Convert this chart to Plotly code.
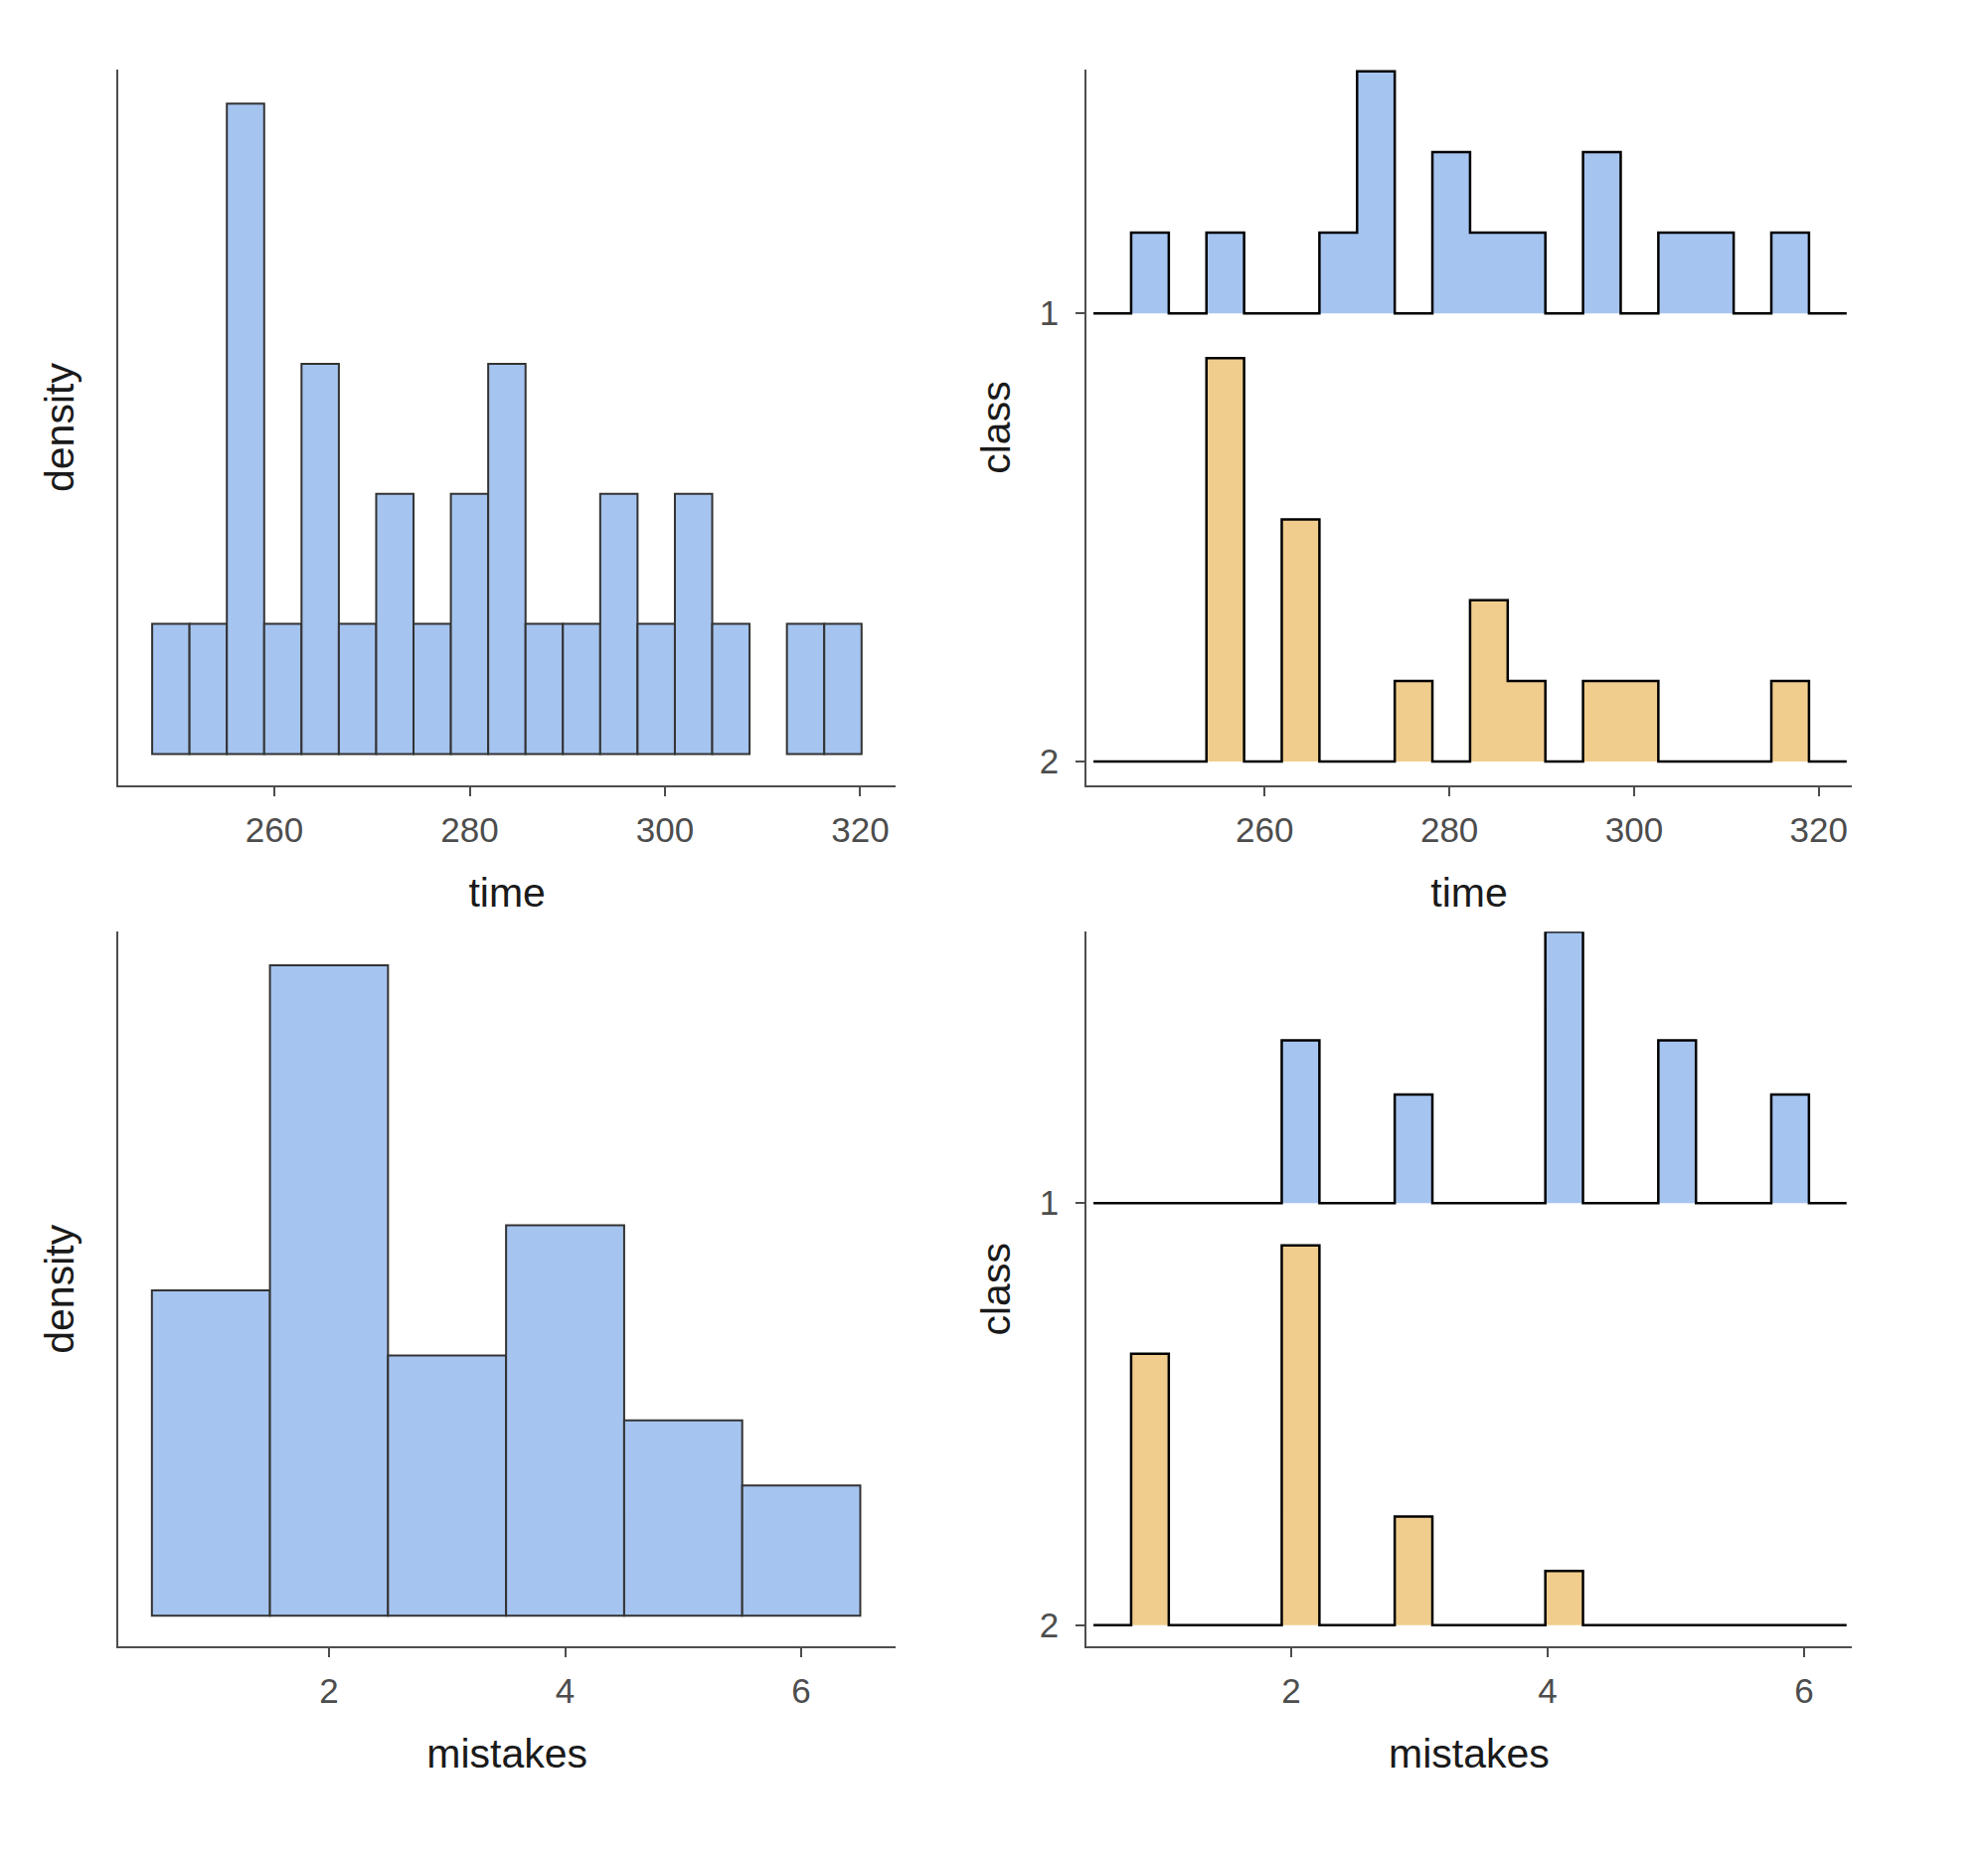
import plotly.graph_objects as go

# time histogram (all cases), 19 bins
time_start = 247.48
time_width = 3.824
time_counts = [1, 1, 5, 1, 3, 1, 2, 1, 2, 3, 1, 1, 2, 1, 2, 1, 0, 1, 1]

# time ridges by class, 20 bins
ridge_time_start = 241.46
ridge_time_width = 4.078
time_class1 = [0, 1, 0, 1, 0, 0, 1, 3, 0, 2, 1, 1, 0, 2, 0, 1, 1, 0, 1, 0]
time_class2 = [0, 0, 0, 5, 0, 3, 0, 0, 1, 0, 2, 1, 0, 1, 1, 0, 0, 0, 1, 0]

# mistakes histogram (all cases)
mistakes_start = 0.5
mistakes_width = 1.0
mistakes_counts = [5, 10, 4, 6, 3, 2]

# mistakes ridges by class, 20 bins
ridge_mis_start = 0.457
ridge_mis_width = 0.2937
mistakes_class1 = [0, 0, 0, 0, 0, 3, 0, 0, 2, 0, 0, 0, 5, 0, 0, 3, 0, 0, 2, 0]
mistakes_class2 = [0, 5, 0, 0, 0, 7, 0, 0, 2, 0, 0, 0, 1, 0, 0, 0, 0, 0, 0, 0]

time_ticks = [260, 280, 300, 320]
mistakes_ticks = [2, 4, 6]
class_ticks = [1, 2]

BLUE = '#a6c4f0'
ORANGE = '#f0cd8c'
FONT = 'Liberation Sans, Arial, sans-serif'
N = 30

# page body has an 8px margin, so the figure is a bit smaller than the window
W, H, OFF = 1984, 1857, 8


def px_x(a, b):
    return [(a - OFF) / W, (b - OFF) / W]


def px_y(top_px, bottom_px):
    return [1 - (bottom_px - OFF) / H, 1 - (top_px - OFF) / H]


def hist_trace(start, width, counts, xa, ya):
    # density bars, empty bins left out so no outline is drawn
    xs, ys = [], []
    for i, c in enumerate(counts):
        if c > 0:
            xs.append(start + width * (i + 0.5))
            ys.append(c / (N * width))
    return go.Bar(x=xs, y=ys, width=width, xaxis=xa, yaxis=ya,
                  marker=dict(color=BLUE, line=dict(color='#333333', width=2)),
                  showlegend=False, hoverinfo='skip')


def ridge_trace(start, width, counts, base, scale, color, xa, ya):
    xs = [start]
    ys = [base]
    for i, c in enumerate(counts):
        h = base - c * scale
        xs += [start + width * i, start + width * (i + 1)]
        ys += [h, h]
    xs.append(start + width * len(counts))
    ys.append(base)
    return go.Scatter(x=xs, y=ys, mode='lines', fill='toself', fillcolor=color,
                      line=dict(color='black', width=2.5), xaxis=xa, yaxis=ya,
                      showlegend=False, hoverinfo='skip')


t_scale = 0.9 / max(time_class1 + time_class2)
m_scale = 0.9 / max(mistakes_class1 + mistakes_class2)

data = [
    hist_trace(time_start, time_width, time_counts, 'x', 'y'),
    ridge_trace(ridge_time_start, ridge_time_width, time_class1, 1, t_scale, BLUE, 'x2', 'y2'),
    ridge_trace(ridge_time_start, ridge_time_width, time_class2, 2, t_scale, ORANGE, 'x2', 'y2'),
    hist_trace(mistakes_start, mistakes_width, mistakes_counts, 'x3', 'y3'),
    ridge_trace(ridge_mis_start, ridge_mis_width, mistakes_class1, 1, m_scale, BLUE, 'x4', 'y4'),
    ridge_trace(ridge_mis_start, ridge_mis_width, mistakes_class2, 2, m_scale, ORANGE, 'x4', 'y4'),
]

axis_common = dict(showline=True, linecolor='#4d4d4d', linewidth=2, showgrid=False,
                   zeroline=False, ticks='outside', ticklen=9, tickwidth=2,
                   tickcolor='#4d4d4d', tickfont=dict(size=35, color='#4d4d4d', family=FONT))
title_font = dict(size=41, color='#1a1a1a', family=FONT)


def xaxis(domain, rng, ticks, title, anchor):
    return dict(axis_common, domain=domain, range=rng, tickvals=ticks, anchor=anchor,
                ticklabelstandoff=4,
                title=dict(text=title, font=title_font, standoff=30))


def dens_yaxis(domain, rng, anchor):
    return dict(axis_common, domain=domain, range=rng, anchor=anchor, ticks='',
                showticklabels=False,
                title=dict(text='density', font=title_font, standoff=30))


def class_yaxis(domain, rng, anchor):
    return dict(axis_common, domain=domain, range=rng, anchor=anchor, tickvals=class_ticks,
                ticktext=[str(c) for c in class_ticks], ticklabelstandoff=10,
                title=dict(text='class', font=title_font, standoff=16))


left = px_x(119.3, 901)
right = px_x(1093.1, 1862.9)
top = px_y(70.1, 790)
bottom = px_y(937.2, 1656.4)

t_dens = time_width * N
layout = dict(
    width=W, height=H,
    margin=dict(l=0, r=0, t=0, b=0),
    paper_bgcolor='white', plot_bgcolor='white',
    font=dict(family=FONT),
    xaxis=xaxis(left, [244.04, 323.62], time_ticks, 'time', 'y'),
    yaxis=dens_yaxis(top, [-0.2416 / t_dens, 5.262 / t_dens], 'x'),
    xaxis2=xaxis(right, [240.71, 323.57], time_ticks, 'time', 'y2'),
    yaxis2=class_yaxis(top, [2.0532, 0.4562], 'x2'),
    xaxis3=xaxis(left, [0.218, 6.799], mistakes_ticks, 'mistakes', 'y3'),
    yaxis3=dens_yaxis(bottom, [-0.478 / N, 10.515 / N], 'x3'),
    xaxis4=xaxis(right, [0.403, 6.371], mistakes_ticks, 'mistakes', 'y4'),
    yaxis4=class_yaxis(bottom, [2.0511, 0.3569], 'x4'),
)

fig = go.Figure(data=data, layout=layout)
fig.write_html("out.html")
